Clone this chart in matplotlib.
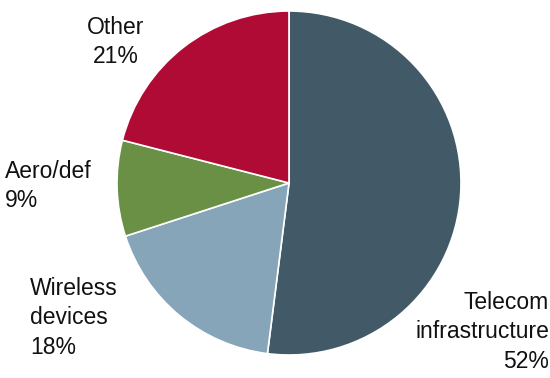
import matplotlib
matplotlib.use("Agg")
import matplotlib.pyplot as plt

labels = ["Telecom\ninfrastructure\n52%", "Wireless\ndevices\n18%", "Aero/def\n9%", "Other\n21%"]
shares = [52, 18, 9, 21]
colors = ["#425a68", "#86a5b9", "#6a9046", "#b00b35"]

plt.rcParams["font.family"] = ["Liberation Sans", "DejaVu Sans"]

W, H = 550, 378
fig = plt.figure(figsize=(W / 100, H / 100), dpi=100)

cx, cy, r = 289, 183, 172
ax = fig.add_axes([(cx - r) / W, (H - cy - r) / H, 2 * r / W, 2 * r / H])
ax.pie(shares, colors=colors, startangle=90, counterclock=False,
       wedgeprops=dict(edgecolor="white", linewidth=1.2))
ax.set_xlim(-1, 1)
ax.set_ylim(-1, 1)
ax.set_aspect("equal")
ax.axis("off")

fs = 16.5
# label positions in pixels (x, y from top), alignment
pos = [(549, 332, "right"), (30, 318, "left"), (5, 186, "left"), (116, 42, "center")]
for lab, (x, y, ha) in zip(labels, pos):
    fig.text(x / W, 1 - y / H, lab, ha=ha, va="center", fontsize=fs,
             multialignment=ha, linespacing=1.38, color="#111111")

fig.savefig("out.png", dpi=100)
